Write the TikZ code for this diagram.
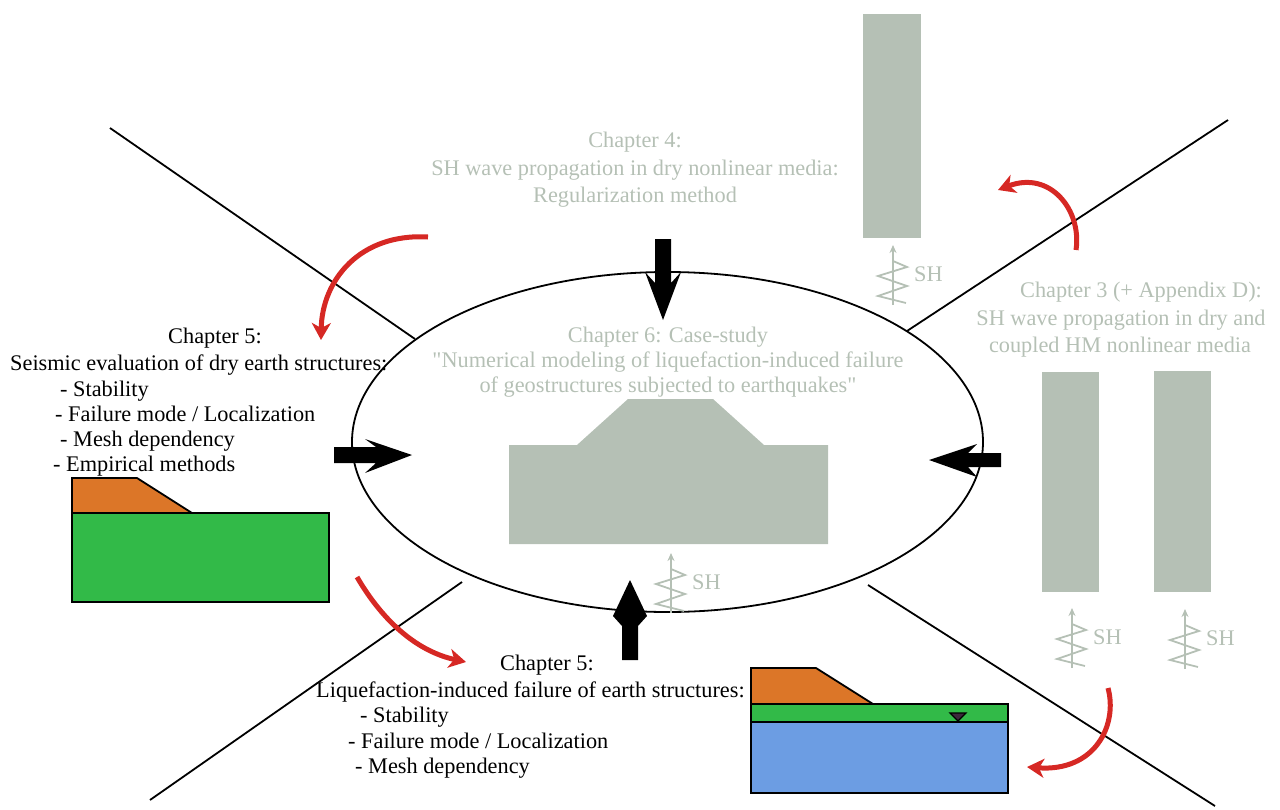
\documentclass[tikz,border=0pt]{standalone}
\usepackage{fontspec}
\setmainfont{Liberation Serif}[Ligatures=TeXOff]
\usetikzlibrary{arrows.meta,shapes.geometric}
\definecolor{sage}{RGB}{181,192,181}
\definecolor{soilorange}{RGB}{220,118,40}
\definecolor{soilgreen}{RGB}{50,186,72}
\definecolor{soilblue}{RGB}{108,157,227}
\definecolor{turnred}{RGB}{214,40,36}
\definecolor{watermark}{RGB}{60,40,60}
\tikzset{
  lbl/.style={inner sep=0pt, font=\fontsize{22.3}{25}\selectfont},
  glbl/.style={lbl, text=sage},
  divider/.style={line width=1.8pt, black},
  turn/.style={line width=5pt, turnred, -{Stealth[length=17pt, width=19pt, inset=5pt]}},
  block/.style={fill=black},
  sagebox/.style={fill=sage},
  soil/.style={draw=black, line width=1.8pt},
  shwave/.pic={
    \draw[sage, line width=1.8pt, -{Stealth[length=8pt, width=7pt]}] (0,0) -- (0,-60);
    \draw[sage, line width=1.8pt, line join=miter]
      (0,-44) -- (14,-38) -- (-15,-29) -- (14,-19) -- (-15,-9) -- (13,-2);
    \node[glbl, anchor=west] at (21,-31) {SH};
  }
}
\begin{document}
\begin{tikzpicture}[x=1pt, y=-1pt]
\useasboundingbox (0,0) rectangle (1280,809);

% central case-study ellipse
\node[ellipse, draw, line width=1.8pt, minimum width=631pt, minimum height=340pt, inner sep=0pt] (core) at (667.5,442) {};

% dividing lines between the chapters
\coordinate (d1a) at (110,128);  \coordinate (d1b) at (415,339);
\coordinate (d2a) at (1228,120); \coordinate (d2b) at (907,331);
\coordinate (d3a) at (150,800);  \coordinate (d3b) at (462,582);
\coordinate (d4a) at (1215,806); \coordinate (d4b) at (868,585);
\draw[divider] (d1a) -- (d1b);
\draw[divider] (d2a) -- (d2b);
\draw[divider] (d3a) -- (d3b);
\draw[divider] (d4a) -- (d4b);

% grey geometries
\fill[sagebox] (863,14) rectangle (921,238);
\fill[sagebox] (1042,372) rectangle (1099,592);
\fill[sagebox] (1154,371) rectangle (1211,592);
\fill[sagebox] (509,544) -- (509,445) -- (577,445) -- (628,399) -- (713,399) -- (764,445) -- (828,445) -- (828,544) -- cycle;

% SH wave symbols
\pic at (893,305) {shwave};
\pic at (671,613) {shwave};
\pic at (1072,668) {shwave};
\pic at (1185,669) {shwave};

% dry slope model
\filldraw[soil, fill=soilgreen] (72,513) rectangle (329,602);
\filldraw[soil, fill=soilorange] (72,513) -- (72,478) -- (137,478) -- (192,513) -- cycle;

% saturated slope model
\filldraw[soil, fill=soilblue] (751,722) rectangle (1008,793);
\filldraw[soil, fill=soilgreen] (751,704) rectangle (1008,722);
\filldraw[soil, fill=soilorange] (751,704) -- (751,668) -- (816,668) -- (873,704) -- cycle;
\filldraw[fill=watermark, draw=black, line width=1.2pt] (950,713) -- (966,713) -- (958,721) -- cycle;

% block arrows into the case study
\fill[block] (655,239) -- (671,239) -- (671,283) -- (681,272) -- (663,320) -- (645,272) -- (655,283) -- cycle;
\fill[block] (334,447) -- (376,447) -- (365,439) -- (412,455) -- (365,473) -- (376,463) -- (334,463) -- cycle;
\fill[block] (1001,453) -- (968,453) -- (977,444) -- (929,460) -- (977,477) -- (968,467) -- (1001,467) -- cycle;
\fill[block] (622,660) -- (622,626) -- (613,616) -- (630,580) -- (647,616) -- (638,626) -- (638,660) -- cycle;

% turning arrows
\coordinate (t1a) at (428,237);  \coordinate (t1b) at (321,340);
\coordinate (t2a) at (1076,250); \coordinate (t2b) at (998,190);
\coordinate (t3a) at (1108,688); \coordinate (t3b) at (1027,767);
\coordinate (t4a) at (357,577);  \coordinate (t4b) at (466,662);
\draw[turn] (t1a) .. controls (360,233) and (322,280) .. (t1b);
\draw[turn] (t2a) .. controls (1082,210) and (1050,170) .. (t2b);
\draw[turn] (t3a) .. controls (1118,725) and (1095,772) .. (t3b);
\draw[turn] (t4a) .. controls (385,625) and (420,652) .. (t4b);

% chapter 4
\node[glbl, anchor=base] (c4a) at (635,147) {Chapter 4:};
\node[glbl, anchor=base] (c4b) at (635,175) {SH wave propagation in dry nonlinear media:};
\node[glbl, anchor=base] (c4c) at (635,202) {Regularization method};

% chapter 3
\node[glbl, anchor=base] (c3a) at (1141,297) {Chapter 3 (+ Appendix D):};
\node[glbl, anchor=base] (c3b) at (1121,325) {SH wave propagation in dry and};
\node[glbl, anchor=base] (c3c) at (1120,352) {coupled HM nonlinear media};

% chapter 6
\node[glbl, anchor=base] (c6a) at (668,342) {Chapter 6: Case-study};
\node[glbl, anchor=base] (c6b) at (668,367) {"Numerical modeling of liquefaction-induced failure};
\node[glbl, anchor=base] (c6c) at (668,392) {of geostructures subjected to earthquakes"};

% chapter 5, dry
\node[lbl, anchor=base] (c5a) at (215,343) {Chapter 5:};
\node[lbl, anchor=base west] (c5b) at (10,370) {Seismic evaluation of dry earth structures:};
\node[lbl, anchor=base west] (c5c) at (60,396) {- Stability};
\node[lbl, anchor=base west] (c5d) at (55,421) {- Failure mode / Localization};
\node[lbl, anchor=base west] (c5e) at (60,446) {- Mesh dependency};
\node[lbl, anchor=base west] (c5f) at (53,471) {- Empirical methods};

% chapter 5, liquefaction
\node[lbl, anchor=base west] (l5a) at (500,670) {Chapter 5:};
\node[lbl, anchor=base west] (l5b) at (316,697) {Liquefaction-induced failure of earth structures:};
\node[lbl, anchor=base west] (l5c) at (360,722) {- Stability};
\node[lbl, anchor=base west] (l5d) at (348,748) {- Failure mode / Localization};
\node[lbl, anchor=base west] (l5e) at (355,773) {- Mesh dependency};
\end{tikzpicture}
\end{document}
